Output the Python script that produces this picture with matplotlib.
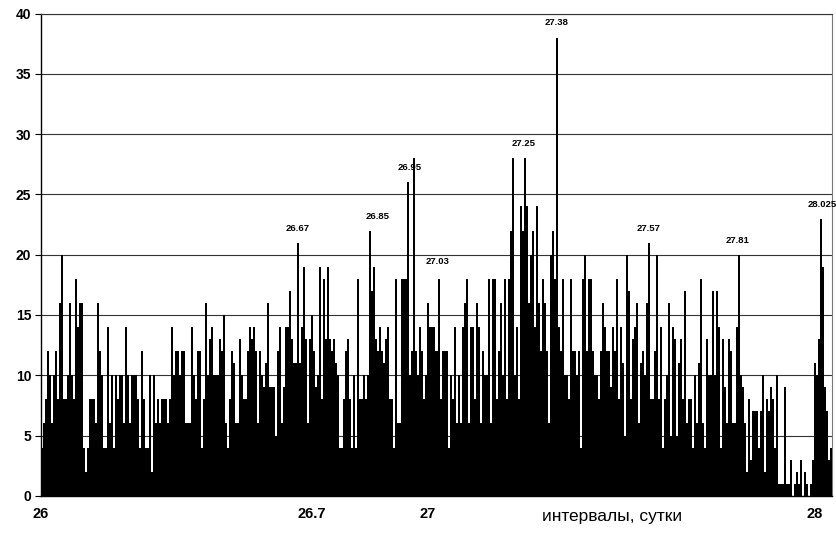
import numpy as np
import matplotlib
matplotlib.use("Agg")
import matplotlib.pyplot as plt

plt.rcParams["font.family"] = ["Liberation Sans", "DejaVu Sans"]

# interval counts left to right (bin width ~0.0052 sut.)
x_start = 26.0
bin_step = 0.005175
counts = [
    4, 6, 8, 12, 10, 6, 10, 12, 8, 16, 20, 8, 8, 10, 16, 10, 8, 18, 14, 16, 16, 4, 2, 4, 8, 8, 8, 6, 16, 12, 10, 4,
    4, 14, 6, 10, 4, 10, 8, 10, 10, 6, 14, 10, 6, 10, 10, 10, 8, 4, 12, 8, 4, 4, 10, 2, 10, 6, 8, 6, 8, 8, 8, 6, 8,
    14, 10, 12, 12, 10, 12, 12, 6, 6, 6, 14, 10, 8, 12, 12, 4, 8, 16, 10, 13, 14, 10, 10, 10, 13, 12, 15, 6, 4, 8, 12, 11, 6,
    6, 13, 10, 8, 8, 12, 14, 13, 14, 12, 6, 12, 10, 9, 11, 16, 9, 9, 9, 5, 12, 14, 6, 9, 14, 14, 17, 13, 11, 11, 21, 11, 14,
    19, 13, 6, 13, 15, 12, 9, 10, 19, 8, 18, 13, 19, 13, 12, 13, 11, 10, 4, 4, 8, 12, 13, 8, 4, 10, 4, 18, 8, 8, 10, 8, 10,
    22, 17, 19, 13, 12, 14, 12, 11, 13, 14, 8, 8, 4, 18, 6, 6, 18, 18, 18, 26, 10, 12, 28, 12, 10, 14, 12, 8, 10, 16, 14, 14, 14,
    12, 18, 8, 12, 12, 12, 4, 10, 8, 14, 6, 10, 6, 14, 16, 18, 6, 14, 14, 8, 16, 14, 6, 12, 10, 10, 18, 6, 18, 18, 8, 12, 16,
    10, 18, 8, 18, 22, 28, 10, 14, 8, 24, 22, 28, 24, 16, 20, 22, 14, 24, 16, 12, 18, 16, 12, 6, 20, 22, 18, 38, 14, 12, 18, 10, 10,
    8, 18, 12, 12, 10, 12, 4, 18, 20, 12, 18, 18, 12, 10, 10, 8, 12, 16, 14, 12, 12, 9, 14, 12, 18, 8, 14, 11, 5, 20, 17, 8, 13,
    14, 16, 6, 11, 12, 10, 16, 21, 8, 8, 12, 20, 8, 14, 4, 8, 10, 16, 5, 14, 13, 5, 11, 13, 8, 17, 6, 8, 8, 4, 10, 6, 11,
    18, 6, 4, 13, 10, 10, 17, 10, 17, 14, 4, 13, 9, 6, 13, 12, 6, 6, 14, 20, 10, 9, 6, 2, 8, 3, 7, 7, 7, 4, 7, 10, 2,
    8, 7, 9, 8, 4, 10, 1, 1, 1, 9, 1, 1, 3, 0, 1, 2, 1, 3, 0, 2, 1, 0, 1, 3, 11, 10, 13, 23, 19, 9, 7, 3, 4,
]

# peak labels: text, x, y (data units)
peak_labels = ["26.67", "26.85", "26.95", "27.03", "27.25", "27.38", "27.57", "27.81", "28.025"]
peak_x = [26.662, 26.869, 26.952, 27.025, 27.247, 27.332, 27.570, 27.801, 28.018]
peak_y = [22.2, 23.2, 27.2, 19.4, 29.2, 39.3, 22.2, 21.2, 24.2]

x_ticks = [26, 26.7, 27, 28]
x_ticklabels = ["26", "26.7", "27", "28"]
y_ticks = np.arange(0, 41, 5)

W, H = 837, 538
fig = plt.figure(figsize=(W / 100, H / 100), dpi=100)
ax = fig.add_axes([41 / W, 1 - 495.8 / H, (832 - 41) / W, (495.8 - 13.6) / H])

lefts = x_start + bin_step * np.arange(len(counts))
ax.bar(lefts, counts, width=bin_step, align="edge", color="black",
       linewidth=0, zorder=3)

ax.set_xlim(x_start, x_start + bin_step * len(counts))
ax.set_ylim(0, 40)

ax.set_yticks(y_ticks)
ax.set_yticklabels([str(v) for v in y_ticks], fontsize=10, fontweight="bold")
ax.yaxis.grid(True, color="#333333", linewidth=0.8, zorder=1)
ax.tick_params(axis="y", length=4, width=0.8, pad=3)

ax.set_xticks(x_ticks)
ax.set_xticklabels(x_ticklabels, fontsize=10.5, fontweight="bold")
ax.tick_params(axis="x", length=0, pad=8)

for side in ["left", "bottom"]:
    ax.spines[side].set_color("black")
    ax.spines[side].set_linewidth(1.0)
ax.spines["top"].set_color("#333333")
ax.spines["top"].set_linewidth(0.8)
ax.spines["right"].set_color("#777777")
ax.spines["right"].set_linewidth(0.8)

for label, px, py in zip(peak_labels, peak_x, peak_y):
    ax.text(px, py, label, ha="center", va="center", fontsize=6.8,
            fontweight="bold", zorder=4)

fig.text(612 / W, 1 - 516 / H, "интервалы, сутки", ha="center", va="center",
         fontsize=12.5)

fig.savefig("out.png", dpi=100)
